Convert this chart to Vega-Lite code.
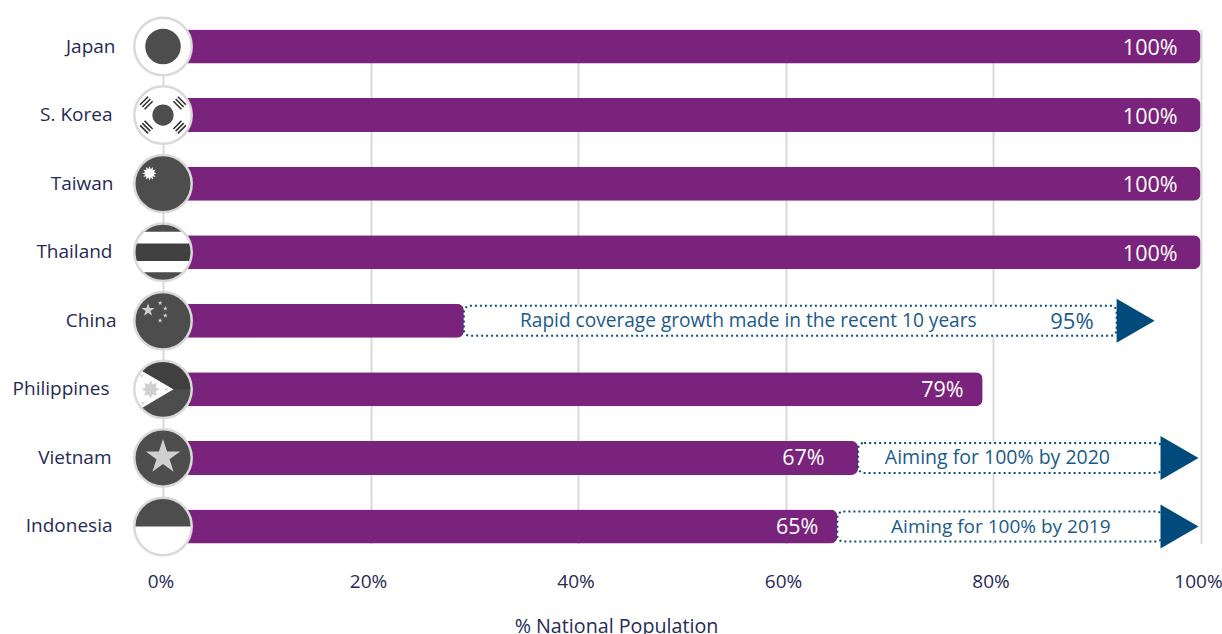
{
  "$schema": "https://vega.github.io/schema/vega-lite/v6.json",
  "autosize": "none",
  "width": 1037.5,
  "height": 514,
  "padding": {"left": 163, "top": 29.5, "right": 21.5, "bottom": 90.5},
  "background": "white",
  "config": {"font": "Open Sans", "view": {"stroke": null}},
  "data": {"values": [
    {"country": "Japan", "coverage": 100},
    {"country": "S. Korea", "coverage": 100},
    {"country": "Taiwan", "coverage": 100},
    {"country": "Thailand", "coverage": 100},
    {"country": "China", "coverage": 29, "target": 95, "note": "Rapid coverage growth made in the recent 10 years"},
    {"country": "Philippines", "coverage": 79},
    {"country": "Vietnam", "coverage": 67, "target": 100, "note": "Aiming for 100% by 2020"},
    {"country": "Indonesia", "coverage": 65, "target": 100, "note": "Aiming for 100% by 2019"}
  ]},
  "encoding": {
    "y": {
      "field": "country", "type": "nominal",
      "scale": {
        "domain": ["Japan", "S. Korea", "Taiwan", "Thailand", "China", "Philippines", "Vietnam", "Indonesia"],
        "paddingInner": 0.504, "paddingOuter": 0
      },
      "axis": {
        "title": null, "domain": false, "ticks": false, "grid": false,
        "labelPadding": 51, "labelFontSize": 19, "labelColor": "#272a55",
        "encoding": {"labels": {"dx": {"value": {"expr": "{'Japan':3,'S. Korea':0,'Taiwan':1,'Thailand':0,'China':4,'Philippines':-3,'Vietnam':-1,'Indonesia':0}[datum.label]"}}}}
      }
    }
  },
  "resolve": {"scale": {"shape": "independent"}},
  "layer": [
    {
      "mark": {"type": "bar", "color": "#79237d", "cornerRadiusEnd": 7},
      "encoding": {
        "x": {
          "field": "coverage", "type": "quantitative",
          "scale": {"domain": [0, 100], "nice": false},
          "axis": {
            "title": "% National Population", "titleFontSize": 19.7, "titleFontWeight": "normal", "titleColor": "#272a55",
            "titleX": 453, "titleY": 83, "titleBaseline": "middle", "titleAlign": "center",
            "values": [0, 20, 40, 60, 80, 100], "labelExpr": "datum.value + '%'",
            "domain": false, "ticks": false, "grid": true, "gridColor": "#d9d9d9", "gridWidth": 2,
            "labelFontSize": 19, "labelColor": "#272a55", "labelPadding": 29, "labelOffset": -2.5, "labelFlush": false, "labelOverlap": false, "labelBound": false
          }
        }
      }
    },
    {
      "transform": [{"filter": "datum.target == 95"}],
      "mark": {"type": "bar", "size": 30, "fill": "white", "stroke": "#0a4d80", "strokeWidth": 2, "strokeDash": [2, 3], "cornerRadius": 6, "x2Offset": -32},
      "encoding": {"x": {"field": "coverage", "type": "quantitative"}, "x2": {"field": "target"}}
    },
    {
      "transform": [{"filter": "datum.target == 100"}],
      "mark": {"type": "bar", "size": 30, "fill": "white", "stroke": "#0a4d80", "strokeWidth": 2, "strokeDash": [2, 3], "cornerRadius": 6, "x2Offset": -38},
      "encoding": {"x": {"field": "coverage", "type": "quantitative"}, "x2": {"field": "target"}}
    },
    {
      "mark": {"type": "point", "shape": "circle", "filled": true, "fill": "white", "opacity": 1, "size": 3295},
      "encoding": {"x": {"datum": 0, "type": "quantitative"}}
    },
    {
      "mark": {"type": "point", "filled": true, "fill": "#4d4d4d", "opacity": 1, "size": 3295},
      "encoding": {
        "x": {"datum": 0, "type": "quantitative"},
        "shape": {
          "field": "country", "type": "nominal", "legend": null,
          "scale": {
            "domain": ["Japan", "S. Korea", "Taiwan", "Thailand", "China", "Philippines", "Vietnam", "Indonesia"],
            "range": [
              "M -0.62 0 A 0.62 0.62 0 1 1 0.62 0 A 0.62 0.62 0 1 1 -0.62 0 Z",
              "M -0.37 0 A 0.37 0.37 0 1 1 0.37 0 A 0.37 0.37 0 1 1 -0.37 0 Z",
              "M -1 0 A 1 1 0 1 1 1 0 A 1 1 0 1 1 -1 0 Z",
              "M -0.704 -0.71 A 1 1 0 0 1 0.704 -0.71 Z M -0.714 0.7 A 1 1 0 0 0 0.714 0.7 Z",
              "M -1 0 A 1 1 0 1 1 1 0 A 1 1 0 1 1 -1 0 Z",
              "M -0.75 -0.66 A 1 1 0 0 1 1 0 L 0.37 0 Z M -0.75 0.66 A 1 1 0 0 0 1 0 L 0.37 0 Z",
              "M -1 0 A 1 1 0 1 1 1 0 A 1 1 0 1 1 -1 0 Z",
              "M -1 0 A 1 1 0 0 1 1 0 Z"
            ]
          }
        }
      }
    },
    {
      "transform": [{"filter": "datum.country == 'Thailand' || datum.country == 'Philippines'"}],
      "mark": {"type": "point", "filled": true, "fill": "#404040", "opacity": 1, "size": 3295},
      "encoding": {
        "x": {"datum": 0, "type": "quantitative"},
        "shape": {
          "field": "country", "type": "nominal", "legend": null,
          "scale": {
            "domain": ["Thailand", "Philippines"],
            "range": [
              "M -0.952 -0.305 L 0.952 -0.305 A 1 1 0 0 1 0.952 0.305 L -0.952 0.305 A 1 1 0 0 1 -0.952 -0.305 Z",
              "M -0.75 -0.66 A 1 1 0 0 1 1 0 L 0.37 0 Z"
            ]
          }
        }
      }
    },
    {
      "transform": [{"filter": "datum.country == 'China' || datum.country == 'Philippines' || datum.country == 'Vietnam'"}],
      "mark": {"type": "point", "filled": true, "fill": "#d0d0d0", "opacity": 1, "size": 3295},
      "encoding": {
        "x": {"datum": 0, "type": "quantitative"},
        "shape": {
          "field": "country", "type": "nominal", "legend": null,
          "scale": {
            "domain": ["China", "Philippines", "Vietnam"],
            "range": [
              "M -0.52 -0.61 L -0.466 -0.444 L -0.292 -0.444 L -0.433 -0.342 L -0.379 -0.176 L -0.52 -0.278 L -0.661 -0.176 L -0.607 -0.342 L -0.748 -0.444 L -0.574 -0.444 Z M -0.1 -0.71 L -0.08 -0.648 L -0.014 -0.648 L -0.067 -0.609 L -0.047 -0.547 L -0.1 -0.586 L -0.153 -0.547 L -0.133 -0.609 L -0.186 -0.648 L -0.12 -0.648 Z M 0.08 -0.52 L 0.1 -0.458 L 0.166 -0.458 L 0.113 -0.419 L 0.133 -0.357 L 0.08 -0.396 L 0.027 -0.357 L 0.047 -0.419 L -0.006 -0.458 L 0.06 -0.458 Z M 0.08 -0.27 L 0.1 -0.208 L 0.166 -0.208 L 0.113 -0.169 L 0.133 -0.107 L 0.08 -0.146 L 0.027 -0.107 L 0.047 -0.169 L -0.006 -0.208 L 0.06 -0.208 Z M -0.1 -0.1 L -0.08 -0.038 L -0.014 -0.038 L -0.067 0.001 L -0.047 0.063 L -0.1 0.024 L -0.153 0.063 L -0.133 0.001 L -0.186 -0.038 L -0.12 -0.038 Z",
              "M -0.12 0 L -0.254 0.073 L -0.211 0.219 L -0.357 0.176 L -0.43 0.31 L -0.503 0.176 L -0.649 0.219 L -0.606 0.073 L -0.74 0 L -0.606 -0.073 L -0.649 -0.219 L -0.503 -0.176 L -0.43 -0.31 L -0.357 -0.176 L -0.211 -0.219 L -0.254 -0.073 Z M -0.74 -0.56 L -0.722 -0.505 L -0.664 -0.505 L -0.711 -0.471 L -0.693 -0.415 L -0.74 -0.449 L -0.787 -0.415 L -0.769 -0.471 L -0.816 -0.505 L -0.758 -0.505 Z M 0.11 -0.08 L 0.128 -0.025 L 0.186 -0.025 L 0.139 0.009 L 0.157 0.065 L 0.11 0.031 L 0.063 0.065 L 0.081 0.009 L 0.034 -0.025 L 0.092 -0.025 Z M -0.7 0.4 L -0.682 0.455 L -0.624 0.455 L -0.671 0.489 L -0.653 0.545 L -0.7 0.511 L -0.747 0.545 L -0.729 0.489 L -0.776 0.455 L -0.718 0.455 Z",
              "M 0 -0.66 L 0.142 -0.225 L 0.599 -0.225 L 0.229 0.044 L 0.37 0.48 L 0 0.211 L -0.37 0.48 L -0.229 0.044 L -0.599 -0.225 L -0.142 -0.225 Z"
            ]
          }
        }
      }
    },
    {
      "transform": [{"filter": "datum.country == 'Taiwan'"}],
      "mark": {
        "type": "point", "filled": true, "fill": "white", "opacity": 1, "size": 3295,
        "shape": "M -0.22 -0.36 L -0.325 -0.321 L -0.253 -0.235 L -0.364 -0.254 L -0.345 -0.143 L -0.431 -0.215 L -0.47 -0.11 L -0.509 -0.215 L -0.595 -0.143 L -0.576 -0.254 L -0.687 -0.235 L -0.615 -0.321 L -0.72 -0.36 L -0.615 -0.399 L -0.687 -0.485 L -0.576 -0.466 L -0.595 -0.577 L -0.509 -0.505 L -0.47 -0.61 L -0.431 -0.505 L -0.345 -0.577 L -0.364 -0.466 L -0.253 -0.485 L -0.325 -0.399 Z"
      },
      "encoding": {"x": {"datum": 0, "type": "quantitative"}}
    },
    {
      "transform": [{"filter": "datum.country == 'S. Korea'"}],
      "mark": {
        "type": "point", "filled": false, "stroke": "#2e2e2e", "strokeWidth": 1.5, "opacity": 1, "size": 3295,
        "shape": "M -0.798 -0.358 L -0.518 -0.638 M -0.72 -0.28 L -0.44 -0.56 M -0.642 -0.202 L -0.362 -0.482 M 0.798 -0.358 L 0.518 -0.638 M 0.72 -0.28 L 0.44 -0.56 M 0.642 -0.202 L 0.362 -0.482 M -0.798 0.358 L -0.518 0.638 M -0.72 0.28 L -0.44 0.56 M -0.642 0.202 L -0.362 0.482 M 0.798 0.358 L 0.518 0.638 M 0.72 0.28 L 0.44 0.56 M 0.642 0.202 L 0.362 0.482"
      },
      "encoding": {"x": {"datum": 0, "type": "quantitative"}}
    },
    {
      "mark": {"type": "point", "shape": "circle", "filled": false, "stroke": "#d9d9d9", "strokeWidth": 2.5, "opacity": 1, "size": 3295},
      "encoding": {"x": {"datum": 0, "type": "quantitative"}}
    },
    {
      "transform": [{"filter": "datum.coverage == 100"}, {"calculate": "datum.coverage + '%'", "as": "label"}],
      "mark": {"type": "text", "align": "right", "baseline": "middle", "dx": -23, "dy": 2.5, "fontSize": 21.5, "color": "white"},
      "encoding": {"x": {"field": "coverage", "type": "quantitative"}, "text": {"field": "label"}}
    },
    {
      "transform": [{"filter": "datum.country == 'Philippines' || datum.country == 'Indonesia'"}, {"calculate": "datum.coverage + '%'", "as": "label"}],
      "mark": {"type": "text", "align": "right", "baseline": "middle", "dx": -19, "dy": 1.5, "fontSize": 21.5, "color": "white"},
      "encoding": {"x": {"field": "coverage", "type": "quantitative"}, "text": {"field": "label"}}
    },
    {
      "transform": [{"filter": "datum.country == 'Vietnam'"}, {"calculate": "datum.coverage + '%'", "as": "label"}],
      "mark": {"type": "text", "align": "right", "baseline": "middle", "dx": -33.5, "dy": 1.5, "fontSize": 21.5, "color": "white"},
      "encoding": {"x": {"field": "coverage", "type": "quantitative"}, "text": {"field": "label"}}
    },
    {
      "transform": [{"filter": "datum.target == 95"}, {"calculate": "datum.target + '%'", "as": "label"}],
      "mark": {"type": "text", "align": "right", "baseline": "middle", "dx": -55, "dy": 1, "fontSize": 22, "color": "#1a5a8c"},
      "encoding": {"x": {"field": "target", "type": "quantitative"}, "text": {"field": "label"}}
    },
    {
      "transform": [{"filter": "datum.target == 95"}],
      "mark": {"type": "text", "align": "right", "baseline": "middle", "dx": -172, "dy": 0, "fontSize": 19.1, "color": "#1a5a8c"},
      "encoding": {"x": {"field": "target", "type": "quantitative"}, "text": {"field": "note"}}
    },
    {
      "transform": [{"filter": "datum.country == 'Vietnam'"}],
      "mark": {"type": "text", "align": "right", "baseline": "middle", "dx": -90.5, "dy": 0, "fontSize": 19.5, "color": "#1a5a8c"},
      "encoding": {"x": {"field": "target", "type": "quantitative"}, "text": {"field": "note"}}
    },
    {
      "transform": [{"filter": "datum.country == 'Indonesia'"}],
      "mark": {"type": "text", "align": "right", "baseline": "middle", "dx": -90, "dy": 1, "fontSize": 19, "color": "#1a5a8c"},
      "encoding": {"x": {"field": "target", "type": "quantitative"}, "text": {"field": "note"}}
    },
    {
      "transform": [{"filter": "datum.target == 95"}],
      "mark": {"type": "point", "filled": true, "fill": "#004a7c", "opacity": 1, "size": 1936, "xOffset": -13, "shape": "M -0.864 -1 L 0.864 0 L -0.864 1 Z"},
      "encoding": {"x": {"field": "target", "type": "quantitative"}}
    },
    {
      "transform": [{"filter": "datum.target == 100"}],
      "mark": {"type": "point", "filled": true, "fill": "#004a7c", "opacity": 1, "size": 1936, "xOffset": -21, "shape": "M -0.864 -1 L 0.864 0 L -0.864 1 Z"},
      "encoding": {"x": {"field": "target", "type": "quantitative"}}
    }
  ]
}
